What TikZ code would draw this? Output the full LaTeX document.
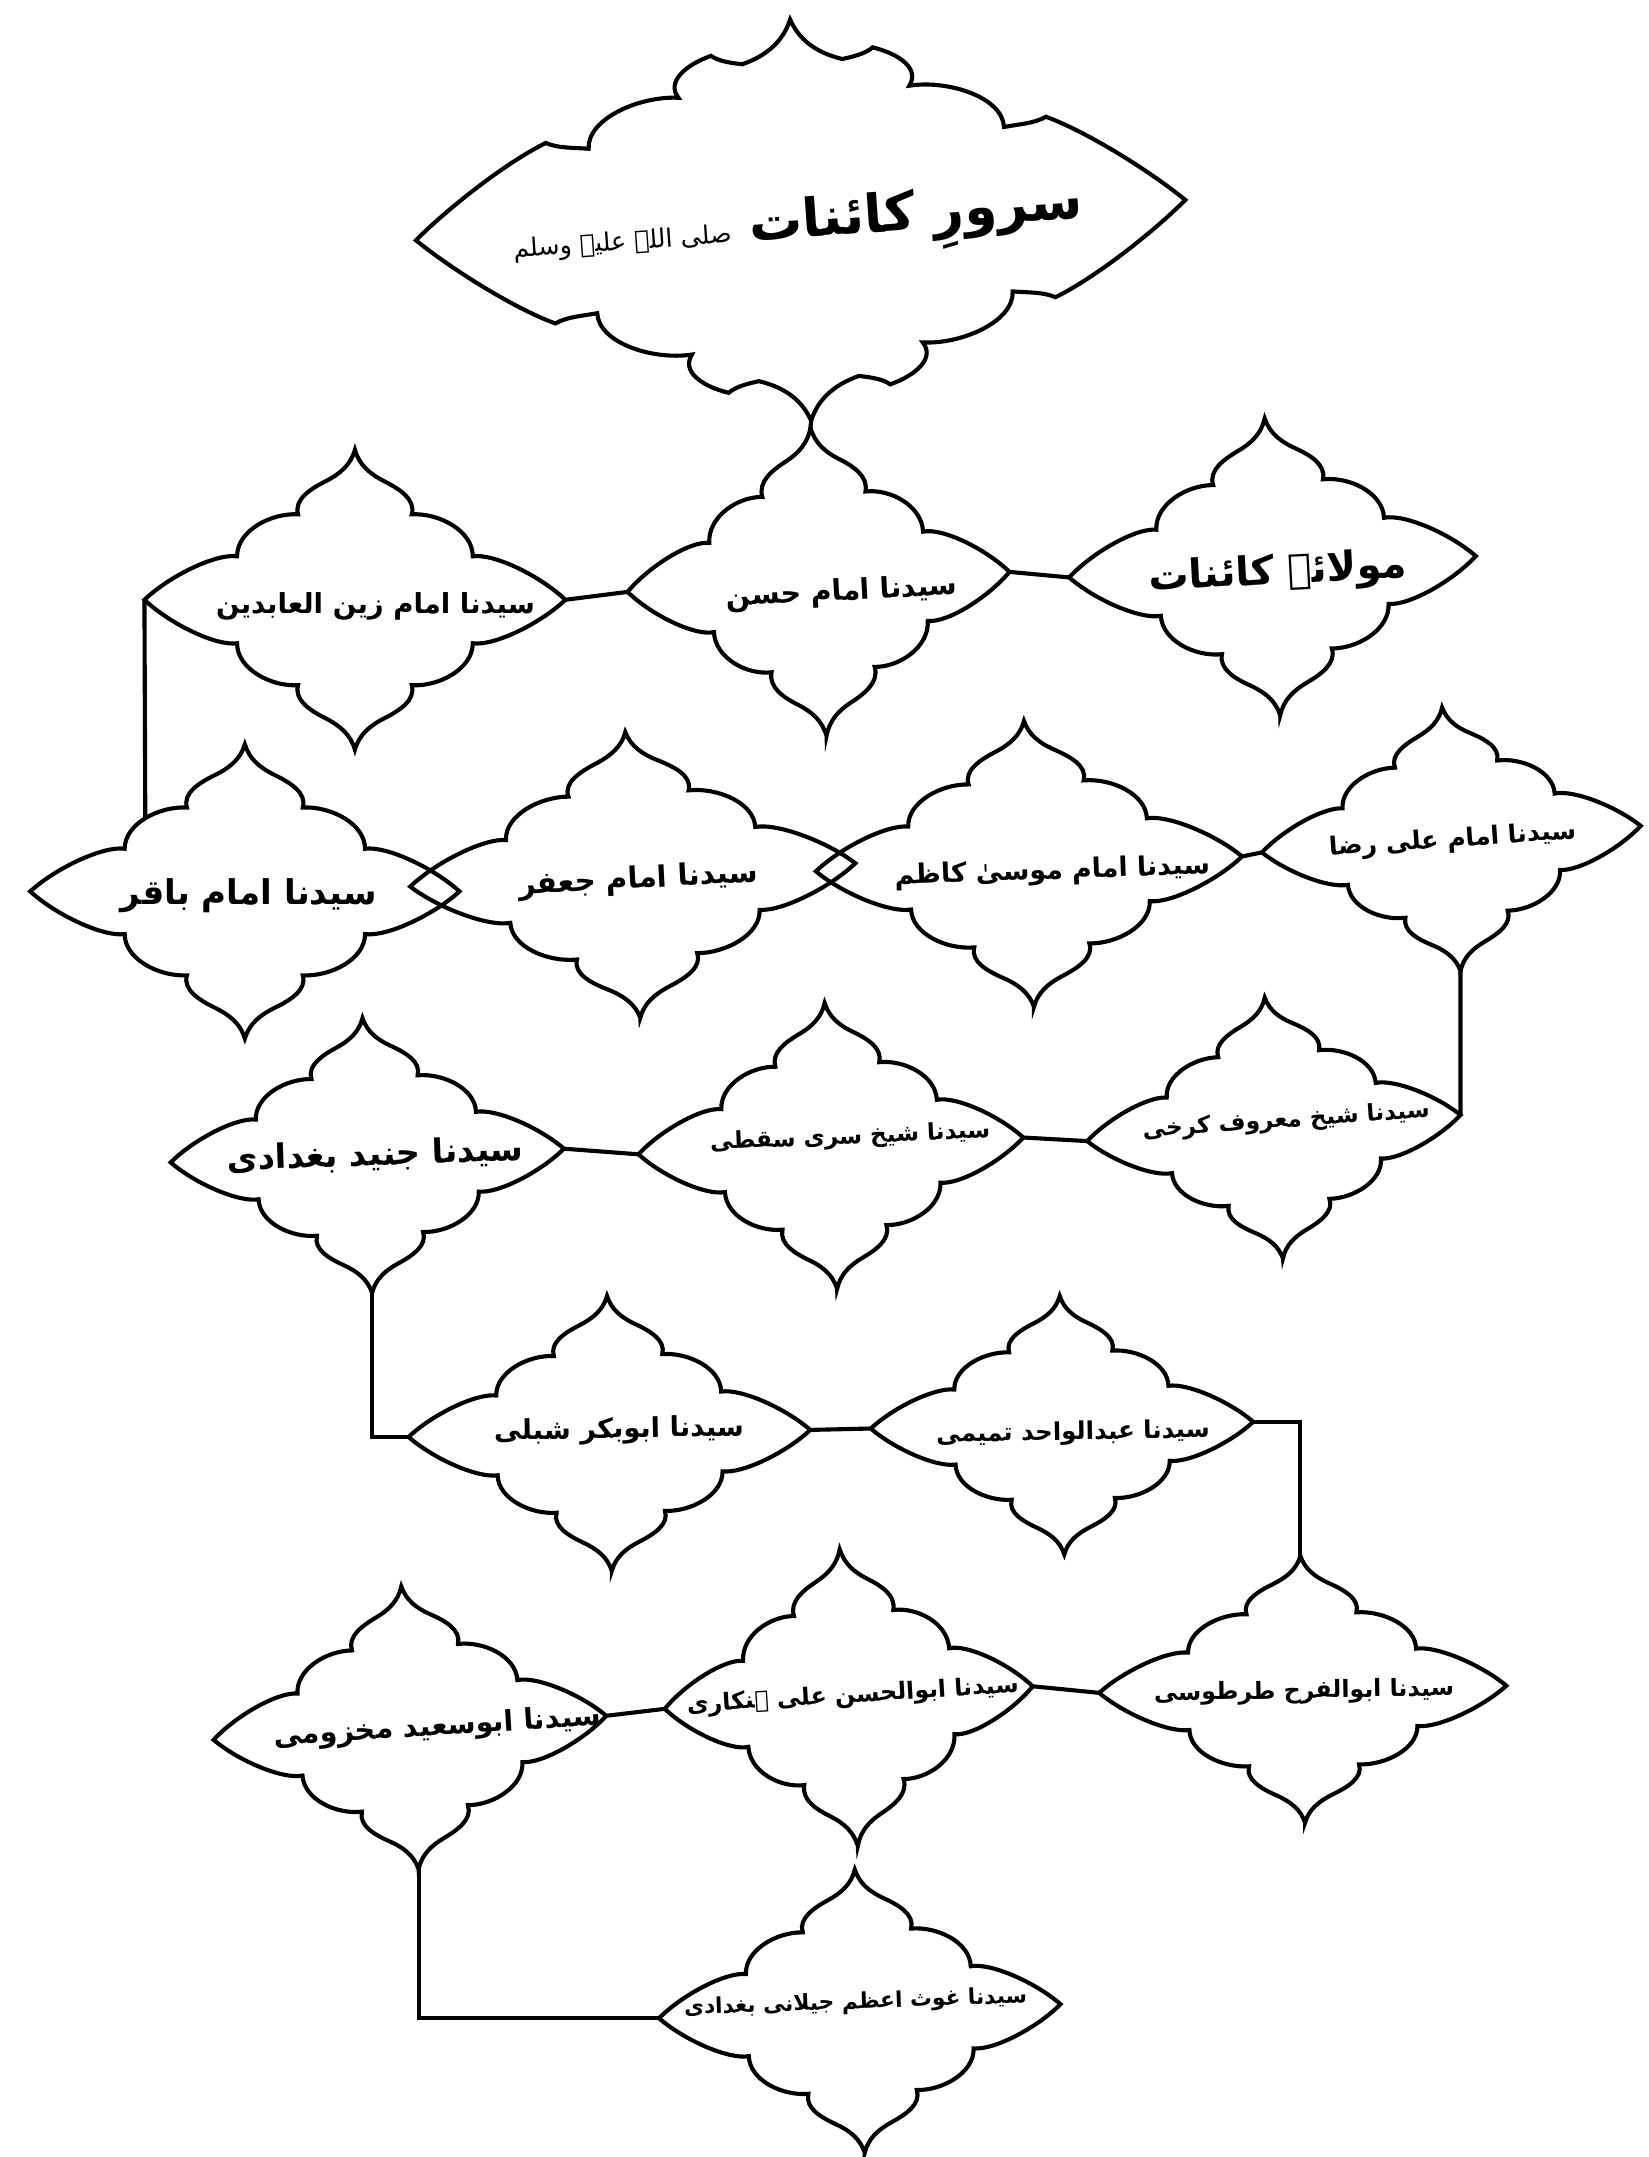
\documentclass[tikz,border=0pt]{standalone}
\usepackage{fontspec}
\newfontfamily\urdu[Script=Arabic]{DejaVu Sans}
\TeXXeTstate=1

\begin{document}
\begin{tikzpicture}[x=0.02cm, y=-0.02cm]
	% --- Parameters ---
	\def\pageW{1198}
	\def\pageH{1568}
	\def\lw{1.7pt}

	% --- Styles ---
	\tikzset{
		outline/.style={draw=black, line width=\lw, line join=miter, miter limit=12},
		link/.style={draw=black, line width=\lw},
		name_text/.style={font=\urdu\bfseries\fontsize{#1}{#1}\selectfont, inner sep=0pt},
		name_text/.default=12,
		pics/cloud/.style 2 args={code={
			\pgfmathsetmacro\cw{#1*0.02}
			\pgfmathsetmacro\ch{#2*0.02}
			\begin{scope}[x=\cw cm, y=-\ch cm]
				\draw[outline] (0,1)
				.. controls (0.02,0.90) and (0.07,0.84) .. (0.14,0.79)
				.. controls (0.21,0.74) and (0.29,0.67) .. (0.27,0.57)
				.. controls (0.40,0.58) and (0.56,0.46) .. (0.56,0.29)
				.. controls (0.66,0.31) and (0.88,0.16) .. (1,0)
				.. controls (0.88,-0.16) and (0.66,-0.31) .. (0.56,-0.29)
				.. controls (0.56,-0.46) and (0.40,-0.58) .. (0.27,-0.57)
				.. controls (0.29,-0.67) and (0.21,-0.74) .. (0.14,-0.79)
				.. controls (0.07,-0.84) and (0.02,-0.90) .. (0,-1)
				.. controls (-0.02,-0.90) and (-0.07,-0.84) .. (-0.14,-0.79)
				.. controls (-0.21,-0.74) and (-0.29,-0.67) .. (-0.27,-0.57)
				.. controls (-0.40,-0.58) and (-0.56,-0.46) .. (-0.56,-0.29)
				.. controls (-0.66,-0.31) and (-0.88,-0.16) .. (-1,0)
				.. controls (-0.88,0.16) and (-0.66,0.31) .. (-0.56,0.29)
				.. controls (-0.56,0.46) and (-0.40,0.58) .. (-0.27,0.57)
				.. controls (-0.29,0.67) and (-0.21,0.74) .. (-0.14,0.79)
				.. controls (-0.07,0.84) and (-0.02,0.90) .. cycle;
				\coordinate (-t) at (0,-1);
				\coordinate (-b) at (0,1);
				\coordinate (-l) at (-1,0);
				\coordinate (-r) at (1,0);
				\coordinate (-nw) at (-0.464,-0.497);
			\end{scope}
		}},
		pics/crown/.style 2 args={code={
			\pgfmathsetmacro\cw{#1*0.02}
			\pgfmathsetmacro\ch{#2*0.02}
			\begin{scope}[x=\cw cm, y=-\ch cm]
				\draw[outline] (0,1)
				.. controls (0.02,0.90) and (0.06,0.83) .. (0.13,0.79)
				.. controls (0.16,0.80) and (0.19,0.81) .. (0.21,0.84)
				.. controls (0.28,0.80) and (0.33,0.72) .. (0.30,0.64)
				.. controls (0.40,0.66) and (0.54,0.56) .. (0.54,0.41)
				.. controls (0.58,0.42) and (0.62,0.42) .. (0.65,0.45)
				.. controls (0.76,0.36) and (0.92,0.14) .. (1,0)
				.. controls (0.92,-0.14) and (0.76,-0.36) .. (0.65,-0.45)
				.. controls (0.62,-0.42) and (0.58,-0.42) .. (0.54,-0.41)
				.. controls (0.54,-0.56) and (0.40,-0.66) .. (0.30,-0.64)
				.. controls (0.33,-0.72) and (0.28,-0.80) .. (0.21,-0.84)
				.. controls (0.19,-0.81) and (0.16,-0.80) .. (0.13,-0.79)
				.. controls (0.06,-0.83) and (0.02,-0.90) .. (0,-1)
				.. controls (-0.02,-0.90) and (-0.06,-0.83) .. (-0.13,-0.79)
				.. controls (-0.16,-0.80) and (-0.19,-0.81) .. (-0.21,-0.84)
				.. controls (-0.28,-0.80) and (-0.33,-0.72) .. (-0.30,-0.64)
				.. controls (-0.40,-0.66) and (-0.54,-0.56) .. (-0.54,-0.41)
				.. controls (-0.58,-0.42) and (-0.62,-0.42) .. (-0.65,-0.45)
				.. controls (-0.76,-0.36) and (-0.92,-0.14) .. (-1,0)
				.. controls (-0.92,0.14) and (-0.76,0.36) .. (-0.65,0.45)
				.. controls (-0.62,0.42) and (-0.58,0.42) .. (-0.54,0.41)
				.. controls (-0.54,0.56) and (-0.40,0.66) .. (-0.30,0.64)
				.. controls (-0.33,0.72) and (-0.28,0.80) .. (-0.21,0.84)
				.. controls (-0.19,0.81) and (-0.16,0.80) .. (-0.13,0.79)
				.. controls (-0.06,0.83) and (-0.02,0.90) .. cycle;
				\coordinate (-t) at (0,-1);
				\coordinate (-b) at (0,1);
				\coordinate (-l) at (-1,0);
				\coordinate (-r) at (1,0);
			\end{scope}
		}}
	}

	% --- Page ---
	\fill[white] (0,0) rectangle (\pageW,\pageH);
	\useasboundingbox (0,0) rectangle (\pageW,\pageH);

	% --- Top ---
	\pic[rotate=3] (T) at (582,160) {crown={280}{146}};
	\node[name_text=22, rotate=4] (T) at (580,166) {\beginR سرورِ کائنات {\mdseries\fontsize{10.5}{10.5}\selectfont صلی اللہ علیہ وسلم}\endR};

	% --- Row 1 ---
	\pic[rotate=3] (N1) at (925,412) {cloud={148}{108}};
	\node[name_text=16.6, rotate=3] (N1) at (929,417) {\beginR مولائے کائنات\endR};
	\pic[rotate=3] (N2) at (595,423) {cloud={139}{112}};
	\node[name_text=11.8, rotate=3] (N2) at (612,431) {\beginR سیدنا امام حسن\endR};
	\pic (N3) at (258,436) {cloud={153}{109}};
	\node[name_text=11.4] (N3) at (273,441) {\beginR سیدنا امام زین العابدین\endR};

	% --- Row 2 ---
	\pic[rotate=4] (N4) at (1055,610) {cloud={138}{96}};
	\node[name_text=10.4, rotate=4] (N4) at (1056,611) {\beginR سیدنا امام علی رضا\endR};
	\pic[rotate=2] (N5) at (748,628) {cloud={155}{104}};
	\node[name_text=11.1, rotate=2] (N5) at (765,634) {\beginR سیدنا امام موسیٰ کاظم\endR};
	\pic[rotate=3] (N6) at (460,636) {cloud={162}{104}};
	\node[name_text=12.2, rotate=3] (N6) at (464,640) {\beginR سیدنا امام جعفر\endR};
	\pic (N7) at (178,648) {cloud={156}{107}};
	\node[name_text=14.1] (N7) at (181,651) {\beginR سیدنا امام باقر\endR};

	% --- Row 3 ---
	\pic[rotate=4] (N8) at (926,820) {cloud={136}{95}};
	\node[name_text=9.6, rotate=4] (N8) at (935,815) {\beginR سیدنا شیخ معروف کرخی\endR};
	\pic[rotate=2.5] (N9) at (604,833) {cloud={140}{104}};
	\node[name_text=9.6, rotate=2.5] (N9) at (618,827) {\beginR سیدنا شیخ سری سقطی\endR};
	\pic[rotate=2] (N10) at (267,840) {cloud={143}{100}};
	\node[name_text=13.9, rotate=2] (N10) at (273,840) {\beginR سیدنا جنید بغدادی\endR};

	% --- Row 4 ---
	\pic[rotate=1] (N11) at (443,1042) {cloud={146}{100}};
	\node[name_text=11.3, rotate=1] (N11) at (450,1040) {\beginR سیدنا ابوبکر شبلی\endR};
	\pic[rotate=1] (N12) at (772,1036) {cloud={139}{94}};
	\node[name_text=10.1, rotate=1] (N12) at (780,1042) {\beginR سیدنا عبدالواحد تمیمی\endR};

	% --- Row 5 ---
	\pic[rotate=1] (N13) at (947,1228) {cloud={148}{97}};
	\node[name_text=9.8, rotate=1] (N13) at (948,1230) {\beginR سیدنا ابوالفرح طرطوسی\endR};
	\pic[rotate=3.5] (N14) at (617,1234) {cloud={134}{108}};
	\node[name_text=9.8, rotate=3.5] (N14) at (620,1233) {\beginR سیدنا ابوالحسن علی ہنکاری\endR};
	\pic[rotate=3.5] (N15) at (298,1256) {cloud={143}{103}};
	\node[name_text=11.8, rotate=3.5] (N15) at (318,1256) {\beginR سیدنا ابوسعید مخزومی\endR};

	% --- Bottom ---
	\pic[rotate=2] (N16) at (625,1462) {cloud={146}{103}};
	\node[name_text=9, rotate=2] (N16) at (622,1456) {\beginR سیدنا غوث اعظم جیلانی بغدادی\endR};

	% --- Connectors ---
	\draw[link] (T-b) -- (N2-t);
	\draw[link] (N3-r) -- (N2-l);
	\draw[link] (N2-r) -- (N1-l);
	\draw[link] (N3-l) -- (N7-nw);
	\draw[link] (N5-r) -- (N4-l);
	\draw[link] (N4-b) -- (N8-r);
	\draw[link] (N10-r) -- (N9-l);
	\draw[link] (N9-r) -- (N8-l);
	\draw[link] (N10-b) |- (N11-l);
	\draw[link] (N11-r) -- (N12-l);
	\draw[link] (N12-r) -| (N13-t);
	\draw[link] (N15-r) -- (N14-l);
	\draw[link] (N14-r) -- (N13-l);
	\draw[link] (N15-b) |- (N16-l);
\end{tikzpicture}
\end{document}
